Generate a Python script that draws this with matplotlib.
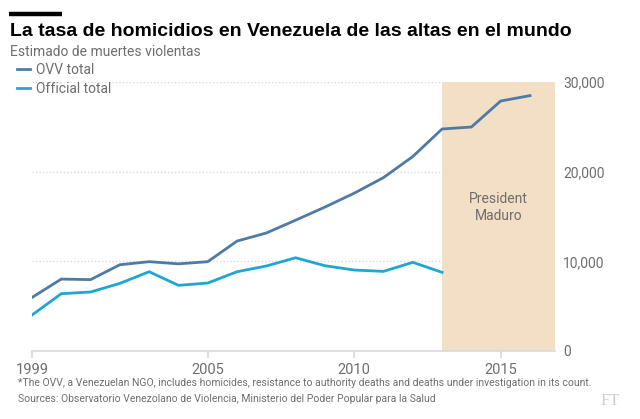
import numpy as np
import matplotlib
matplotlib.use("Agg")
import matplotlib.pyplot as plt
from matplotlib.lines import Line2D

# data
years = [1999, 2000, 2001, 2002, 2003, 2004, 2005, 2006, 2007, 2008,
         2009, 2010, 2011, 2012, 2013, 2014, 2015, 2016]
ovv_total = [5970, 8020, 7960, 9620, 9960, 9720, 9960, 12260, 13160, 14590,
             16050, 17600, 19340, 21690, 24760, 24980, 27880, 28480]
official_years = years[:15]
official_total = [4010, 6390, 6580, 7540, 8840, 7320, 7580, 8840, 9480, 10400,
                  9510, 9030, 8880, 9890, 8770]
maduro_start = 2013
x_ticks = [1999, 2005, 2010, 2015]
y_ticks = [0, 10000, 20000, 30000]

ovv_col = '#4d7ba5'
off_col = '#1fa6d1'
shade_col = '#f3dec6'
grey = '#6e6e6e'
sec_font = ['Liberation Sans Narrow', 'Roboto', 'DejaVu Sans']

fig = plt.figure(figsize=(6.4, 4.19), dpi=100)
ax = fig.add_axes([0.05, 0.1623, 0.817, 0.642])

xmax = 2016.85
ax.axvspan(maduro_start, xmax, color=shade_col, lw=0, zorder=2)
ax.text((maduro_start + xmax) / 2, 16000, 'President\nMaduro', ha='center', va='center',
        color=grey, fontsize=10, family=sec_font, linespacing=1.2, zorder=3)

for v in y_ticks[1:]:
    ax.axhline(v, color='#d8d8d8', lw=1, ls=(0, (1, 1.5)), zorder=1)

ax.plot(years, ovv_total, color=ovv_col, lw=2, zorder=4, solid_joinstyle='miter')
ax.plot(official_years, official_total, color=off_col, lw=2, zorder=4, solid_joinstyle='miter')

ax.set_xlim(1999, xmax)
ax.set_ylim(0, 30000)
for s in ['top', 'left', 'right']:
    ax.spines[s].set_visible(False)
ax.spines['bottom'].set_color('#d9d9d9')
ax.spines['bottom'].set_linewidth(1.2)
ax.set_xticks(x_ticks)
ax.set_xticklabels([str(y) for y in x_ticks], family=sec_font)
ax.tick_params(axis='x', length=5, color='#d9d9d9', width=1.2, labelsize=10.5,
               labelcolor=grey, pad=4)
ax.yaxis.tick_right()
ax.set_yticks(y_ticks)
ax.set_yticklabels(['{:,}'.format(v) for v in y_ticks], family=sec_font)
ax.tick_params(axis='y', length=0, labelsize=10, labelcolor=grey, pad=6)

# header
fig.add_artist(Line2D([9 / 640, 62 / 640], [1 - 14 / 419, 1 - 14 / 419],
                      color='black', lw=3.2, solid_capstyle='butt'))
fig.text(10 / 640, 1 - 32 / 419, 'La tasa de homicidios en Venezuela de las altas en el mundo',
         fontsize=14, fontweight='bold', family='Liberation Sans', va='center')
fig.text(10 / 640, 1 - 52 / 419, 'Estimado de muertes violentas', fontsize=10,
         color=grey, family=sec_font, va='center')

handles = [Line2D([], [], color=ovv_col, lw=2), Line2D([], [], color=off_col, lw=2)]
leg = fig.legend(handles, ['OVV total', 'Official total'], loc='upper left',
                 bbox_to_anchor=(17 / 640, 1 - 63 / 419), frameon=False,
                 handlelength=0.95, handletextpad=0.45, labelspacing=0.35,
                 prop={'family': sec_font, 'size': 10}, borderpad=0, borderaxespad=0)
for t in leg.get_texts():
    t.set_color(grey)

fig.text(18 / 640, 1 - 383 / 419,
         '*The OVV, a Venezuelan NGO, includes homicides, resistance to authority deaths '
         'and deaths under investigation in its count.',
         fontsize=7.5, color=grey, family=sec_font, va='center')
fig.text(18 / 640, 1 - 399 / 419,
         'Sources: Observatorio Venezolano de Violencia, Ministerio del Poder Popular para la Salud',
         fontsize=7.5, color=grey, family=sec_font, va='center')
fig.text(610 / 640, 1 - 401 / 419, 'FT', fontsize=12, color='#cfcfcf',
         family='Liberation Serif', ha='center', va='center')

fig.savefig('out.png', dpi=100)
